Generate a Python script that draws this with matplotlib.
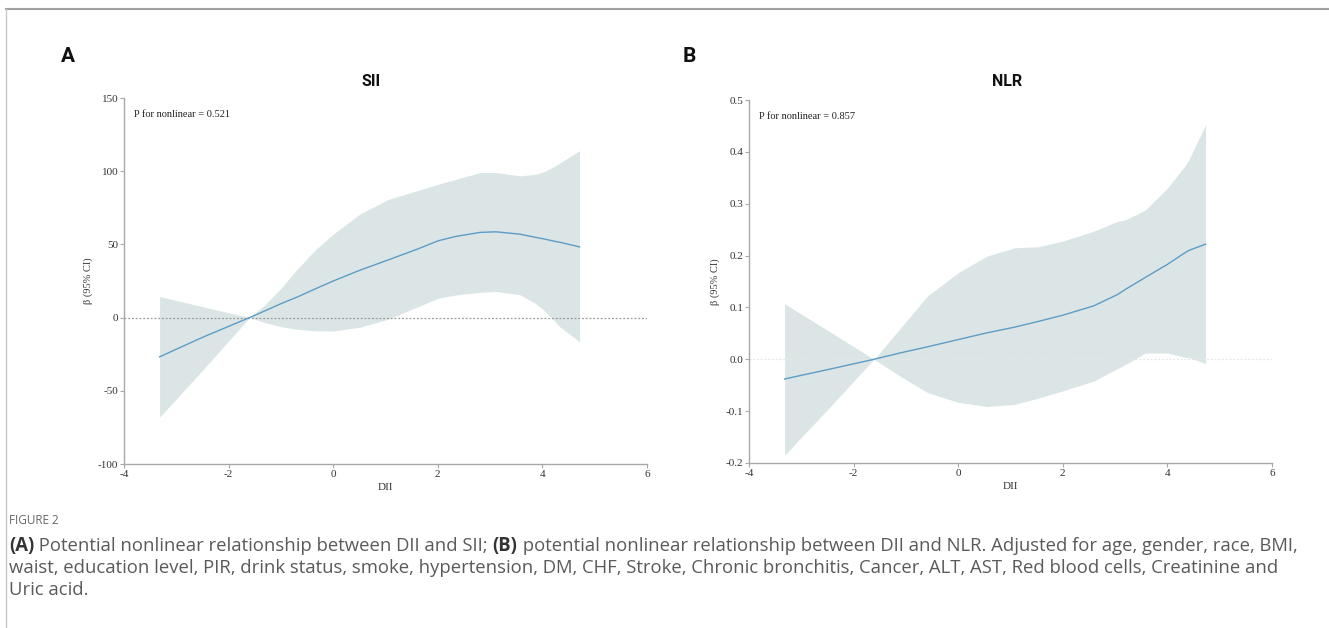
# fig2_rcs.py
# Restricted cubic spline plots: DII vs SII and DII vs NLR

import matplotlib
matplotlib.use('Agg')
import matplotlib.pyplot as plt
from matplotlib.lines import Line2D

plt.rcParams['axes.unicode_minus'] = False

# ── Panel A: SII ──────────────────────────────────────────────────────────────
sii_x     = [-3.32, -2.5, -1.60, -1.30, -1.0, -0.69, -0.35, 0.0, 0.52, 1.06,
             1.59, 2.01, 2.35, 2.81, 3.11, 3.57, 3.87, 4.02, 4.25, 4.33, 4.71]
sii_beta  = [-26.8, -13.5, 0.0, 4.7, 9.5, 14.0, 19.5, 25.0, 32.5, 39.5,
             46.5, 52.5, 55.5, 58.2, 58.6, 57.0, 54.8, 53.8, 52.0, 51.5, 48.3]
sii_upper = [14.4, 7.5, 0.0, 9.0, 20.0, 33.0, 46.0, 57.0, 71.0, 80.8,
             86.5, 91.1, 94.5, 99.1, 99.1, 96.8, 97.9, 99.5, 103.7, 105.5, 114.0]
sii_lower = [-68.0, -36.0, 0.0, -3.5, -6.2, -8.0, -9.0, -9.2, -6.5, -1.0,
             7.0, 13.3, 15.5, 17.3, 17.8, 15.6, 9.5, 5.3, -3.0, -6.2, -16.5]

# ── Panel B: NLR ──────────────────────────────────────────────────────────────
nlr_x     = [-3.32, -2.5, -1.61, -1.12, -0.59, 0.0, 0.55, 1.08, 1.53, 2.0,
             2.59, 3.05, 3.20, 3.58, 4.0, 4.33, 4.41, 4.73]
nlr_beta  = [-0.038, -0.020, 0.0, 0.012, 0.024, 0.038, 0.051, 0.062, 0.073,
             0.085, 0.103, 0.125, 0.135, 0.158, 0.183, 0.205, 0.210, 0.222]
nlr_upper = [0.107, 0.056, 0.0, 0.058, 0.122, 0.167, 0.199, 0.215, 0.217,
             0.228, 0.247, 0.266, 0.269, 0.288, 0.330, 0.372, 0.385, 0.452]
nlr_lower = [-0.185, -0.097, 0.0, -0.032, -0.064, -0.083, -0.091, -0.087,
             -0.075, -0.061, -0.042, -0.018, -0.010, 0.012, 0.012, 0.004,
             0.003, -0.008]

x_ticks   = [-4, -2, 0, 2, 4, 6]
sii_ticks = [-100, -50, 0, 50, 100, 150]
nlr_ticks = [-0.2, -0.1, 0.0, 0.1, 0.2, 0.3, 0.4, 0.5]

caption_1 = [("(A)", True), (" Potential nonlinear relationship between DII and SII; ", False),
             ("(B)", True), (" potential nonlinear relationship between DII and NLR. "
                             "Adjusted for age, gender, race, BMI,", False)]
caption_2 = ("waist, education level, PIR, drink status, smoke, hypertension, DM, CHF, "
             "Stroke, Chronic bronchitis, Cancer, ALT, AST, Red blood cells, Creatinine and")
caption_3 = "Uric acid."

# ── Styles ────────────────────────────────────────────────────────────────────
SERIF     = 'Liberation Serif'
FILL_COL  = '#dce5e5'
LINE_COL  = '#5b9dc6'
SPINE_COL = '#a8a8a8'
TXT_COL   = '#333333'

W, H = 1329, 628
fig = plt.figure(figsize=(W / 100, H / 100), dpi=100)


def px(x, y):
    """pixel (from top-left) -> figure fraction"""
    return x / W, 1 - y / H


def rcs_panel(rect, x, beta, lo, hi, ticks, ylim, fmt, zero_col, p_text):
    ax = fig.add_axes(rect)
    ax.fill_between(x, lo, hi, color=FILL_COL, linewidth=0, zorder=1)
    ax.axhline(0, color=zero_col, linestyle=(0, (1.5, 1.5)), linewidth=0.9, zorder=2)
    ax.plot(x, beta, color=LINE_COL, linewidth=1.0, zorder=3)

    ax.set_xlim(-4, 6)
    ax.set_ylim(*ylim)
    ax.set_xticks(x_ticks)
    ax.set_xticklabels([str(t) for t in x_ticks])
    ax.set_yticks(ticks)
    ax.set_yticklabels([fmt(t) for t in ticks])
    for s in ['top', 'right']:
        ax.spines[s].set_visible(False)
    for s in ['left', 'bottom']:
        ax.spines[s].set_color(SPINE_COL)
        ax.spines[s].set_linewidth(1.0)
    ax.tick_params(length=3, width=0.8, color=SPINE_COL, labelsize=8,
                   labelcolor=TXT_COL, pad=1)
    for lab in ax.get_xticklabels() + ax.get_yticklabels():
        lab.set_family(SERIF)
    ax.set_xlabel('DII', family=SERIF, fontsize=8, color=TXT_COL, labelpad=3)
    ax.set_ylabel('β (95% CI)', family=SERIF, fontsize=7.5, color=TXT_COL, labelpad=4)
    ax.text(0.02, 0.955, p_text, transform=ax.transAxes, family=SERIF,
            fontsize=7.5, color='#222222', va='center', ha='left')
    return ax


# ── Panels ────────────────────────────────────────────────────────────────────
rcs_panel([124 / W, 1 - 464 / H, 523 / W, 366 / H],
          sii_x, sii_beta, sii_lower, sii_upper, sii_ticks, (-100, 150),
          lambda t: f'{t:d}', '#9a9a9a', 'P for nonlinear = 0.521')
rcs_panel([749 / W, 1 - 463 / H, 523 / W, 363 / H],
          nlr_x, nlr_beta, nlr_lower, nlr_upper, nlr_ticks, (-0.2, 0.5),
          lambda t: f'{t:.1f}', '#e6e6e6', 'P for nonlinear = 0.857')

# titles and panel letters
fig.text(*px(371, 82), 'SII', family='Roboto', weight='bold', fontsize=11.5,
         ha='center', va='center', color='#111111')
fig.text(*px(1007, 82), 'NLR', family='Roboto', weight='bold', fontsize=11.5,
         ha='center', va='center', color='#111111')
fig.text(*px(61, 57), 'A', family='Roboto', weight='bold', fontsize=15,
         ha='left', va='center', color='#111111')
fig.text(*px(683, 57), 'B', family='Roboto', weight='bold', fontsize=15,
         ha='left', va='center', color='#111111')

# ── Frame lines (page border) ─────────────────────────────────────────────────
fig.add_artist(Line2D([6 / W, 1], [1 - 9 / H, 1 - 9 / H], color='#a0a0a0',
                      linewidth=1.5, transform=fig.transFigure))
fig.add_artist(Line2D([6 / W, 6 / W], [0, 1 - 9 / H], color='#c8c8c8',
                      linewidth=1.0, transform=fig.transFigure))

# ── Caption ───────────────────────────────────────────────────────────────────
CAP_FONT = 'Open Sans'
CAP_SIZE = 13.35
CAP_COL  = '#5a5a5a'
fig.text(*px(9, 521), 'FIGURE 2', family=CAP_FONT, fontsize=8.5, color='#666666',
         va='center', ha='left')

renderer = fig.canvas.get_renderer()
x_cur = 9
for txt, bold in caption_1:
    t = fig.text(*px(x_cur, 546), txt, family=CAP_FONT, fontsize=CAP_SIZE,
                 weight='bold' if bold else 'normal',
                 color='#333333' if bold else CAP_COL, va='center', ha='left')
    x_cur += t.get_window_extent(renderer).width
fig.text(*px(9, 568), caption_2, family=CAP_FONT, fontsize=CAP_SIZE, color=CAP_COL,
         va='center', ha='left')
fig.text(*px(9, 590), caption_3, family=CAP_FONT, fontsize=CAP_SIZE, color=CAP_COL,
         va='center', ha='left')

fig.savefig('out.png', dpi=100)
